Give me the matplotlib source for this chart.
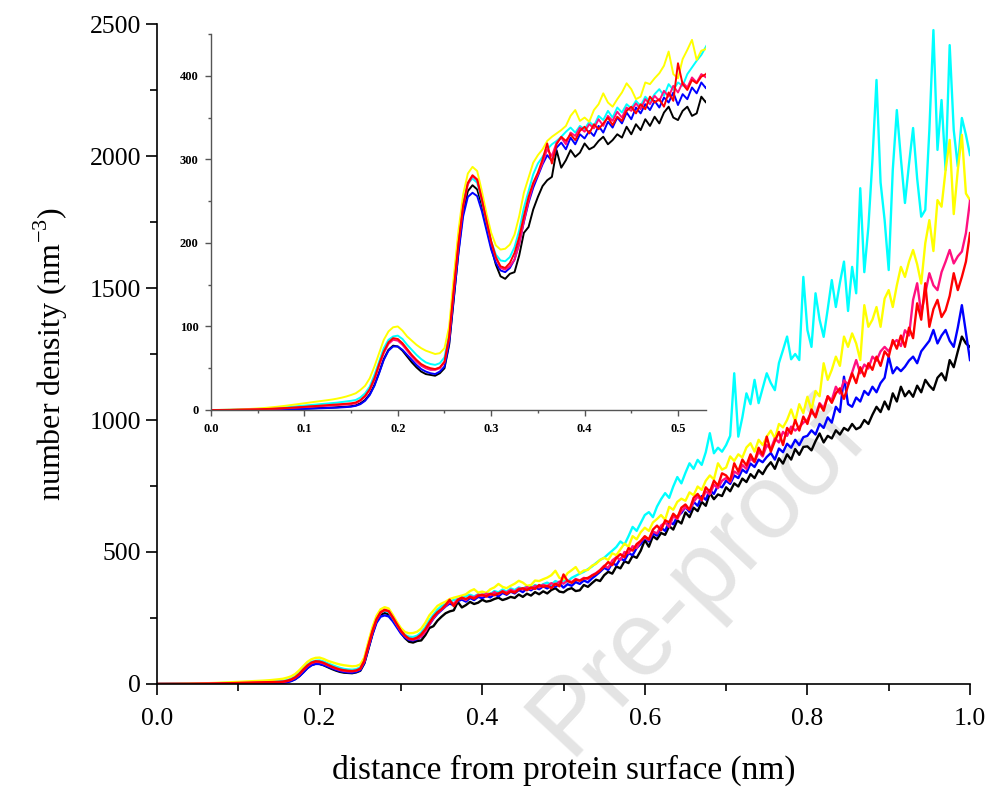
import numpy as np
import matplotlib
matplotlib.use("Agg")
import matplotlib.pyplot as plt
from matplotlib.ticker import MultipleLocator

# -------------------------------
# Data (step 0.005 nm)
# -------------------------------
distance = np.linspace(0.0, 1.0, 201)

yellow = [
    0, 0, 0.1, 0.2, 0.3, 0.5, 0.7, 0.9, 1.2, 1.5,
    1.8, 2.2, 2.7, 3.2, 3.8, 4.4, 5.1, 5.8, 6.6, 7.3,
    8.1, 8.9, 9.6, 10.3, 11.0, 11.8, 12.6, 13.6, 14.8, 16.2,
    18, 20, 24, 29, 38, 52, 68, 84, 94, 99,
    100, 95, 88, 83, 78, 74, 71, 69, 67, 68,
    74, 100, 160, 215, 258, 283, 291, 286, 262, 235,
    212, 197, 192, 193, 198, 210, 232, 260, 278, 296,
    305, 312, 322, 327, 331, 335, 340, 352, 359, 346,
    350, 345, 359, 366, 379, 368, 363, 372, 380, 391,
    384, 372, 375, 392, 390, 397, 403, 412, 429, 402,
    397, 420, 431, 443, 419, 430, 432, 448, 455, 470,
    478, 470, 495, 488, 510, 532, 520, 560, 548, 575,
    592, 580, 612, 625, 640, 622, 671, 660, 690, 702,
    694, 726, 715, 748, 735, 770, 790, 775, 836, 812,
    820, 862, 845, 870, 858, 896, 912, 880, 925, 905,
    937, 960, 930, 985, 972, 1000, 1040, 995, 1060, 1026,
    1088, 1038, 1110, 1090, 1215, 1152, 1190, 1240, 1205, 1316,
    1277, 1328, 1290, 1227, 1435, 1353, 1380, 1428, 1353, 1460,
    1492, 1428, 1510, 1580, 1542, 1600, 1644, 1590, 1517, 1670,
    1757, 1640, 1833, 1808, 1947, 2061, 1780, 1947, 2080, 1858,
    1833,
]

cyan = [
    0, 0, 0, 0.1, 0.2, 0.3, 0.4, 0.6, 0.8, 1.0,
    1.2, 1.5, 1.8, 2.1, 2.5, 2.9, 3.3, 3.8, 4.3, 4.8,
    5.3, 5.8, 6.3, 6.8, 7.3, 7.8, 8.3, 8.8, 9.5, 10.3,
    11, 12, 15, 20, 28, 42, 58, 74, 84, 88,
    89, 85, 78, 72, 66, 61, 57, 55, 54, 56,
    63, 92, 150, 205, 248, 271, 277, 272, 250, 225,
    202, 186, 179, 178, 183, 195, 215, 242, 262, 282,
    295, 303, 312, 318, 322, 327, 333, 338, 332, 340,
    336, 345, 340, 352, 347, 358, 350, 362, 356, 366,
    361, 370, 364, 375, 369, 378, 384, 376, 390, 383,
    392, 388, 402, 410, 418, 425, 435, 445, 458, 470,
    478, 492, 505, 519, 540, 528, 560, 595, 580, 610,
    640, 651, 632, 672, 700, 723, 705, 748, 784, 760,
    800, 836, 815, 849, 830, 878, 950, 874, 895, 880,
    905, 940, 1177, 937, 1010, 1101, 1060, 1152, 1064, 1120,
    1177, 1140, 1113, 1216, 1265, 1316, 1230, 1250, 1227, 1542,
    1341, 1277, 1480, 1380, 1315, 1420, 1530, 1428, 1520, 1600,
    1413, 1580, 1480, 1878, 1560, 1731, 1985, 2288, 1900, 1757,
    1568, 1947, 2174, 1990, 1822, 1970, 2106, 1915, 1770, 1796,
    2098, 2477, 2023, 2212, 1947, 2420, 2098, 1960, 2144, 2080,
    2004,
]

red = [
    0, 0, 0, 0.1, 0.1, 0.2, 0.3, 0.4, 0.5, 0.7,
    0.8, 1.0, 1.2, 1.4, 1.7, 2.0, 2.3, 2.6, 3.0, 3.4,
    3.8, 4.2, 4.5, 4.9, 5.3, 5.7, 6.1, 6.5, 7.0, 7.5,
    8, 9, 12, 17, 25, 38, 55, 70, 81, 86,
    85, 80, 73, 66, 60, 55, 52, 50, 49, 51,
    58, 88, 145, 200, 245, 272, 281, 276, 252, 226,
    202, 183, 172, 170, 176, 188, 207, 232, 255, 272,
    284, 300, 319, 295, 318, 327, 322, 330, 323, 334,
    339, 331, 342, 336, 343, 350, 341, 351, 346, 358,
    363, 355, 366, 360, 375, 368, 372, 363, 380, 370,
    415, 390, 383, 395, 391, 399, 402, 410, 418, 430,
    445, 462, 450, 478, 492, 480, 515, 505, 530, 542,
    560, 548, 585, 600, 582, 620, 612, 645, 630, 668,
    680, 660, 705, 720, 698, 745, 728, 770, 752, 798,
    790, 770, 836, 805, 850, 828, 870, 842, 895, 868,
    937, 880, 920, 955, 905, 970, 948, 1000, 960, 1013,
    985, 1040, 1010, 1060, 1035, 1090, 1065, 1101, 1120, 1080,
    1130, 1177, 1140, 1200, 1165, 1215, 1190, 1240, 1205, 1260,
    1240, 1303, 1270, 1320, 1277, 1350, 1310, 1442, 1380, 1518,
    1353, 1420, 1455, 1390, 1416, 1470, 1556, 1492, 1542, 1600,
    1708,
]

magenta = [
    0, 0, 0, 0.1, 0.1, 0.2, 0.2, 0.3, 0.4, 0.6,
    0.7, 0.9, 1.1, 1.3, 1.5, 1.8, 2.1, 2.4, 2.7, 3.1,
    3.5, 3.8, 4.1, 4.4, 4.8, 5.1, 5.5, 5.9, 6.3, 6.7,
    7, 8, 11, 16, 24, 36, 53, 68, 79, 84,
    83, 78, 71, 64, 58, 53, 50, 48, 48, 50,
    57, 86, 143, 198, 243, 270, 280, 275, 252, 226,
    200, 182, 170, 168, 172, 180, 198, 226, 250, 270,
    282, 296, 312, 304, 320, 326, 318, 332, 328, 338,
    333, 342, 337, 348, 340, 352, 346, 357, 350, 362,
    358, 367, 360, 372, 366, 376, 370, 382, 375, 388,
    380, 392, 386, 398, 392, 402, 398, 412, 420, 432,
    448, 440, 468, 480, 470, 500, 495, 522, 515, 540,
    555, 545, 578, 570, 600, 612, 595, 636, 625, 655,
    670, 660, 690, 710, 695, 730, 718, 755, 742, 770,
    780, 765, 805, 795, 830, 815, 855, 840, 880, 862,
    905, 890, 930, 915, 955, 940, 975, 960, 973, 990,
    1000, 1030, 1015, 1064, 1045, 1090, 1075, 1126, 1100, 1150,
    1135, 1180, 1227, 1177, 1210, 1195, 1240, 1225, 1260, 1277,
    1260, 1290, 1303, 1280, 1340, 1320, 1455, 1518, 1404, 1480,
    1556, 1510, 1492, 1560, 1600, 1644, 1593, 1620, 1638, 1708,
    1830,
]

blue = [
    0, 0, 0, 0, 0, 0.1, 0.1, 0.1, 0.2, 0.2,
    0.3, 0.3, 0.4, 0.5, 0.6, 0.7, 0.8, 0.9, 1.0, 1.2,
    1.3, 1.5, 1.7, 1.9, 2.1, 2.3, 2.5, 2.8, 3.1, 3.5,
    4, 5, 7, 11, 18, 29, 44, 60, 71, 76,
    76, 72, 66, 60, 54, 49, 46, 44, 43, 46,
    52, 80, 135, 188, 232, 255, 260, 256, 238, 215,
    192, 176, 167, 165, 170, 180, 200, 225, 248, 266,
    280, 294, 305, 298, 314, 320, 312, 326, 318, 330,
    325, 334, 328, 340, 332, 345, 338, 350, 343, 356,
    348, 362, 355, 366, 359, 370, 362, 374, 368, 380,
    365, 378, 372, 386, 379, 392, 385, 400, 412, 425,
    440, 432, 458, 450, 475, 468, 495, 488, 515, 530,
    555, 540, 570, 562, 592, 580, 615, 605, 635, 648,
    670, 652, 690, 675, 712, 698, 735, 720, 752, 745,
    770, 758, 790, 780, 812, 800, 835, 822, 850, 840,
    860, 875, 850, 892, 878, 910, 895, 925, 905, 935,
    940, 961, 945, 985, 970, 1010, 990, 1050, 1030, 1164,
    1060, 1050, 1085, 1070, 1110, 1095, 1126, 1105, 1140, 1160,
    1240, 1177, 1200, 1185, 1202, 1225, 1240, 1215, 1260, 1280,
    1300, 1341, 1290, 1320, 1341, 1300, 1277, 1350, 1435, 1330,
    1227,
]

black = [
    0, 0, 0, 0, 0.1, 0.1, 0.1, 0.2, 0.2, 0.3,
    0.4, 0.5, 0.6, 0.7, 0.8, 0.9, 1.0, 1.1, 1.3, 1.5,
    1.7, 1.9, 2.1, 2.3, 2.5, 2.8, 3.0, 3.3, 3.6, 4.0,
    4.5, 5.5, 8, 12, 19, 30, 45, 61, 72, 77,
    76, 71, 64, 57, 51, 46, 43, 42, 41, 44,
    50, 78, 133, 190, 238, 262, 269, 264, 245, 220,
    195, 174, 160, 157, 163, 165, 185, 212, 219, 240,
    255, 268, 275, 279, 311, 290, 299, 311, 303, 308,
    319, 312, 315, 322, 327, 318, 323, 330, 326, 339,
    330, 342, 335, 348, 340, 351, 343, 356, 363, 350,
    347, 358, 363, 352, 355, 375, 368, 382, 395, 390,
    412, 425, 418, 445, 438, 465, 458, 485, 478, 505,
    545, 520, 560, 548, 572, 565, 598, 585, 620, 608,
    650, 632, 668, 655, 690, 675, 723, 700, 718, 712,
    745, 730, 760, 748, 778, 765, 795, 780, 810, 795,
    822, 840, 815, 855, 835, 870, 850, 890, 868, 898,
    900, 885, 920, 949, 915, 940, 930, 961, 945, 970,
    960, 985, 965, 973, 1000, 985, 1020, 1050, 1030, 1070,
    1040, 1101, 1070, 1126, 1090, 1110, 1088, 1130, 1105, 1152,
    1130, 1114, 1160, 1177, 1150, 1227, 1200, 1260, 1316, 1290,
    1277,
]

series = [
    (black, "#000000"),
    (blue, "#0000ff"),
    (cyan, "#00ffff"),
    (yellow, "#ffff00"),
    (magenta, "#ff1080"),
    (red, "#ff0000"),
]

# -------------------------------
# Figure
# -------------------------------
plt.rcParams["font.family"] = ["Liberation Serif", "DejaVu Serif"]

fig = plt.figure(figsize=(9.92, 7.91), dpi=100)

# watermark behind everything
fig.text(868 / 992, 1 - 435 / 791, "Pre-proof", rotation=47,
         rotation_mode="anchor", ha="right", va="baseline",
         fontsize=76, color="#e4e4e4", family="Liberation Sans", zorder=-5)

ax = fig.add_axes([157 / 992, 1 - 684 / 791, 813 / 992, 660 / 791])
ax.set_facecolor("none")
for y, c in series:
    ax.plot(distance, y, color=c, lw=1.7)

ax.set_xlim(0, 1.0)
ax.set_ylim(0, 2500)
ax.xaxis.set_major_locator(MultipleLocator(0.2))
ax.xaxis.set_minor_locator(MultipleLocator(0.1))
ax.yaxis.set_major_locator(MultipleLocator(500))
ax.yaxis.set_minor_locator(MultipleLocator(250))
ax.spines["top"].set_visible(False)
ax.spines["right"].set_visible(False)
for s in ("left", "bottom"):
    ax.spines[s].set_linewidth(1.2)
ax.tick_params(which="major", direction="out", length=8, width=1.2, labelsize=18.5)
ax.tick_params(axis="x", which="major", pad=9)
ax.tick_params(which="minor", direction="out", length=5, width=1.2)
ax.set_xticklabels([f"{v:.1f}" for v in ax.get_xticks()])
ax.set_xlabel("distance from protein surface (nm)", fontsize=24, labelpad=18)
ax.set_ylabel(r"number density (nm$^{\mathregular{-3}}$)", fontsize=23, labelpad=14)

# -------------------------------
# Inset
# -------------------------------
ins = fig.add_axes([211 / 992, 1 - 410 / 791, 495 / 992, 376 / 791])
ins.set_facecolor("none")
for y, c in series:
    ins.plot(distance, y, color=c, lw=1.4)
ins.set_xlim(0, 0.53)
ins.set_ylim(0, 450)
ins.xaxis.set_major_locator(MultipleLocator(0.1))
ins.xaxis.set_minor_locator(MultipleLocator(0.05))
ins.yaxis.set_major_locator(MultipleLocator(100))
ins.yaxis.set_minor_locator(MultipleLocator(50))
ins.spines["top"].set_visible(False)
ins.spines["right"].set_visible(False)
for s in ("left", "bottom"):
    ins.spines[s].set_color("#555555")
    ins.spines[s].set_linewidth(1.0)
ins.tick_params(which="major", direction="out", length=4, width=1.0,
                color="#555555", labelsize=9, pad=5)
ins.tick_params(which="minor", direction="out", length=2.5, width=1.0,
                color="#555555")
ins.set_xticklabels([f"{v:.1f}" for v in ins.get_xticks()], fontweight="bold")
ins.set_yticklabels([f"{v:.0f}" for v in ins.get_yticks()], fontweight="bold")

fig.savefig("out.png", dpi=100)
